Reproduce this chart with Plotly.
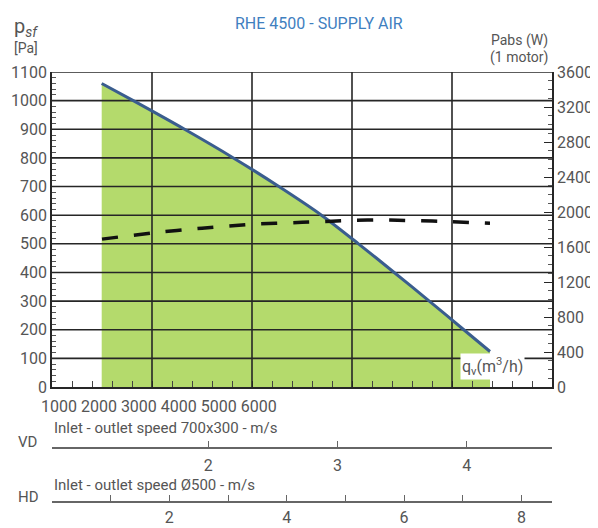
import plotly.graph_objects as go

# fan curve RHE 4500 - supply air
flow = [497, 813, 1326, 1814, 2269, 2695, 3065, 3422, 3773, 4118, 4380]
pressure = [1060, 1000, 900, 800, 700, 600, 500, 400, 300, 200, 124]

power_flow = [500, 1000, 1500, 2000, 2500, 2800, 3000, 3300, 3600, 4000, 4380]
power = [1690, 1760, 1815, 1860, 1882, 1895, 1905, 1909, 1902, 1889, 1871]

flow_grid = [1000, 2000, 3000, 4000]
pressure_grid = [100, 200, 300, 400, 500, 600, 700, 800, 900, 1000, 1100]
flow_labels = [1000, 2000, 3000, 4000, 5000, 6000]

vd_ticks = [2, 3, 4]
hd_ticks = [0, 1, 2, 3, 4, 5, 6, 7, 8]
hd_labels = ['', '', '2', '', '4', '', '6', '', '8']

FONT = 'Roboto'
GREY = '#555555'
GRID = '#262626'

fig = go.Figure()

# green working area
fig.add_trace(go.Scatter(x=flow, y=pressure, mode='none', fill='tozeroy',
                         line=dict(shape='spline', smoothing=0.8),
                         fillcolor='#b4da6c', showlegend=False, hoverinfo='skip'))

# grid drawn over the green area
gx, gy = [], []
for v in pressure_grid:
    gx += [0, 5000, None]
    gy += [v, v, None]
for v in flow_grid:
    gx += [v, v, None]
    gy += [0, 1100, None]
fig.add_trace(go.Scatter(x=gx, y=gy, mode='lines', line=dict(color=GRID, width=1.6),
                         showlegend=False, hoverinfo='skip'))

# pressure curve
fig.add_trace(go.Scatter(x=flow, y=pressure, mode='lines',
                         line=dict(color='#3a5d8e', width=3, shape='spline', smoothing=0.8),
                         showlegend=False))

# absorbed power (right axis)
fig.add_trace(go.Scatter(x=power_flow, y=power, mode='lines', yaxis='y2',
                         line=dict(color='#111111', width=3.5, dash='16px,16px',
                                   shape='spline', smoothing=0.8),
                         showlegend=False))

# helper traces so the speed axes get drawn
fig.add_trace(go.Scatter(x=vd_ticks, y=[None] * len(vd_ticks), xaxis='x2',
                         mode='lines', showlegend=False, hoverinfo='skip'))
fig.add_trace(go.Scatter(x=hd_ticks, y=[None] * len(hd_ticks), xaxis='x3',
                         mode='lines', showlegend=False, hoverinfo='skip'))

tickfont = dict(family=FONT, size=16, color=GREY)

# page body keeps an 8px margin, so the figure is 8px smaller and shifted
fig.update_layout(
    width=590, height=520,
    margin=dict(l=44, r=46, t=64, b=20),
    paper_bgcolor='white', plot_bgcolor='white',
    font=dict(family=FONT, size=15, color=GREY),
    xaxis=dict(range=[0, 5000], domain=[0, 1], showgrid=False, zeroline=False,
               automargin=False, showticklabels=False, showline=True,
               linecolor=GRID, linewidth=1.6,
               ticks='inside', tickvals=flow_grid, ticklen=6, tickcolor=GRID,
               minor=dict(dtick=200, ticks='inside', ticklen=6, tickcolor='#444444')),
    yaxis=dict(range=[0, 1100], domain=[0.2775, 1], showgrid=False, zeroline=False,
               automargin=False, dtick=100, ticks='inside', ticklen=7, tickcolor=GRID,
               showline=True, linecolor=GRID, linewidth=1.6, tickfont=tickfont,
               minor=dict(dtick=20, ticks='inside', ticklen=4, tickcolor='#555555')),
    yaxis2=dict(range=[0, 3600], overlaying='y', side='right', showgrid=False,
                automargin=False, zeroline=False, dtick=400, ticks='inside', ticklen=8,
                tickcolor=GRID, showline=True, linecolor=GRID, linewidth=1.6,
                tickfont=tickfont,
                minor=dict(dtick=100, ticks='inside', ticklen=4, tickcolor='#555555')),
    xaxis2=dict(range=[0.79, 4.66], overlaying='x', anchor='free', position=0.1376,
                automargin=False, showgrid=False, zeroline=False, tickvals=vd_ticks,
                ticks='inside', ticklen=6, tickcolor='#666666', showline=True,
                linecolor='#666666', linewidth=1.5, tickfont=tickfont,
                ticklabelstandoff=3),
    xaxis3=dict(range=[0, 8.52], overlaying='x', anchor='free', position=0.0138,
                automargin=False, showgrid=False, zeroline=False, tickvals=hd_ticks,
                ticktext=hd_labels, ticks='inside', ticklen=6, tickcolor='#666666',
                showline=True, linecolor='#666666', linewidth=1.5, tickfont=tickfont,
                ticklabelstandoff=1),
)

ann = [
    dict(text='RHE 4500 - SUPPLY AIR', x=0.534, y=1.112, font=dict(size=16, color='#3f80bf')),
    dict(text='p<sub><i>sf</i></sub>', x=-0.08, y=1.104, xanchor='left', font=dict(size=20, color=GREY)),
    dict(text='[Pa]', x=-0.08, y=1.055, xanchor='left', font=dict(size=14, color=GREY)),
    dict(text='Pabs (W)', x=0.934, y=1.073, font=dict(size=14, color=GREY)),
    dict(text='(1 motor)', x=0.934, y=1.034, font=dict(size=14, color=GREY)),
    dict(text='q<sub>v</sub>(m<sup>3</sup>/h)', x=0.88, y=0.3234, bgcolor='white',
         font=dict(size=16, color=GREY)),
    dict(text=' '.join(str(v) for v in flow_labels), x=0.214, y=0.2317,
         font=dict(size=16, color=GREY)),
    dict(text='Inlet - outlet speed 700x300 - m/s', x=0, y=0.1835, xanchor='left',
         font=dict(size=15, color=GREY)),
    dict(text='VD', x=-0.072, y=0.151, xanchor='left', font=dict(size=15, color=GREY)),
    dict(text='Inlet - outlet speed Ø500 - m/s', x=0, y=0.0528, xanchor='left',
         font=dict(size=15, color=GREY)),
    dict(text='HD', x=-0.072, y=0.025, xanchor='left', font=dict(size=15, color=GREY)),
]
for a in ann:
    a.setdefault('xanchor', 'center')
    fig.add_annotation(xref='paper', yref='paper', yanchor='middle', showarrow=False, **a)

fig.write_html('out.html')
